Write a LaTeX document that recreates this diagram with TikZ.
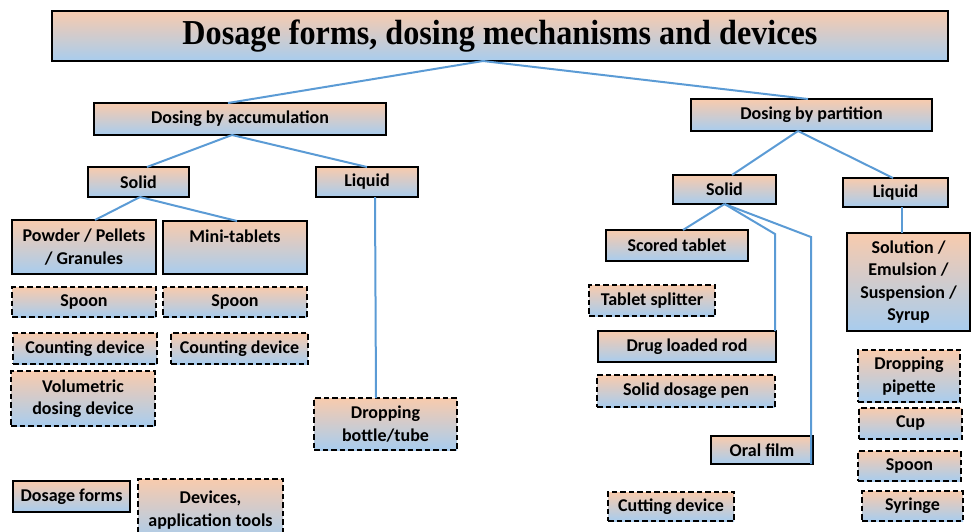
\documentclass[tikz,border=0pt]{standalone}
\usepackage{fontspec}
\setmainfont{Carlito}
\newfontfamily\titlefont[FakeStretch=0.92]{Liberation Serif}
\usetikzlibrary{calc}
\definecolor{peach}{RGB}{248,203,173}
\definecolor{lblue}{RGB}{168,204,238}
\definecolor{conncol}{RGB}{91,155,213}
\tikzset{
  boxbase/.style={top color=peach, bottom color=lblue, inner sep=0pt, outer sep=0pt,
     align=center, font=\bfseries\fontsize{18}{22.5}\selectfont, text=black},
  formbox/.style={boxbase, draw=black, line width=2.2pt},
  devbox/.style={boxbase, draw=black, line width=2.1pt, dash pattern=on 5.5pt off 3pt},
  titlebox/.style={boxbase, draw=black, line width=2.2pt, font=\titlefont\bfseries\fontsize{35}{38}\selectfont},
  conn/.style={draw=conncol, line width=2pt}
}
\newcommand\bx[7]{\node[#1, anchor=north west, minimum width={(#5-#3)*1pt}, minimum height={(#6-#4)*1pt}] (#2) at (#3,#4) {#7};}
\begin{document}
\begin{tikzpicture}[x=1pt,y=-1pt]
\useasboundingbox (0,0) rectangle (971,531);
% title and level 1
\bx{titlebox}{title}{52}{11}{948}{61}{Dosage forms, dosing mechanisms and devices}
\bx{formbox}{dba}{94}{103}{386}{135}{Dosing by accumulation}
\bx{formbox}{dbp}{691}{99}{932}{131}{Dosing by partition}
% accumulation branch
\bx{formbox}{lsolid}{88}{167}{189}{197}{Solid}
\bx{formbox}{lliquid}{316}{167}{418}{197}{Liquid}
\bx{formbox}{powder}{12}{220}{156}{274}{Powder / Pellets\\/ Granules}
\bx{formbox}{mini}{163}{221}{307}{274}{Mini-tablets\\\phantom{/ Granules}}
\bx{devbox}{spoonA}{12}{287}{156}{317}{Spoon}
\bx{devbox}{spoonB}{163}{287}{307}{317}{Spoon}
\bx{devbox}{countA}{13}{333}{157}{364}{Counting device}
\bx{devbox}{countB}{171}{333}{308}{364}{Counting device}
\bx{devbox}{vol}{11}{371}{155}{426}{Volumetric\\dosing device}
\bx{devbox}{bottle}{314}{398}{457}{450}{Dropping\\bottle/tube}
% partition branch
\bx{formbox}{rsolid}{673}{175}{776}{204}{Solid}
\bx{formbox}{rliquid}{843}{178}{948}{207}{Liquid}
\bx{formbox}{scored}{606}{230}{748}{261}{Scored tablet}
\bx{devbox}{splitter}{589}{285}{715}{316}{Tablet splitter}
\bx{formbox}{rod}{598}{331}{776}{362}{Drug loaded rod}
\bx{devbox}{pen}{597}{375}{775}{407}{Solid dosage pen}
\bx{formbox}{oral}{711}{436}{813}{464}{Oral film}
\bx{devbox}{cutting}{608}{492}{734}{521}{Cutting device}
\bx{formbox}{solution}{847}{233}{970}{331}{Solution /\\Emulsion /\\Suspension /\\Syrup}
\bx{devbox}{pipette}{858}{350}{960}{402}{Dropping\\pipette}
\bx{devbox}{cup}{859}{408}{962}{439}{Cup}
\bx{devbox}{spoonC}{858}{451}{961}{481}{Spoon}
\bx{devbox}{syringe}{862}{491}{963}{521}{Syringe}
% legend
\bx{formbox}{legA}{13}{481}{130}{512}{Dosage forms}
\bx{devbox}{legB}{138}{479}{283}{541}{Devices,\\application tools}
% connectors
\draw[conn] ([xshift=-17]title.south) -- ([xshift=-12]dba.north);
\draw[conn] ([xshift=-17]title.south) -- ([xshift=-3.5]dbp.north);
\draw[conn] ([xshift=-8]dba.south) -- ([xshift=8.5]lsolid.north);
\draw[conn] ([xshift=-8]dba.south) -- (lliquid.north);
\draw[conn] ([xshift=1.5]lsolid.south) -- ([xshift=11]powder.north);
\draw[conn] ([xshift=1.5]lsolid.south) -- ([xshift=2]mini.north);
\draw[conn] ([xshift=8]lliquid.south) -- ([xshift=-9.5]bottle.north);
\draw[conn] ([xshift=-13.5]dbp.south) -- ([xshift=7.5]rsolid.north);
\draw[conn] ([xshift=-13.5]dbp.south) -- ([xshift=-2.5]rliquid.north);
\draw[conn] (rsolid.south) -- ([xshift=6]scored.north);
\draw[conn] (rsolid.south) -- ([xshift=-1,yshift=97]rod.north east) -- ([xshift=-1]rod.north east);
\draw[conn] (rsolid.south) -- ([xshift=-2,yshift=227]oral.south east) -- ([xshift=-2]oral.south east);
\draw[conn] ([xshift=6.5]rliquid.south) -- ([xshift=-6.5]solution.north);
\end{tikzpicture}
\end{document}
